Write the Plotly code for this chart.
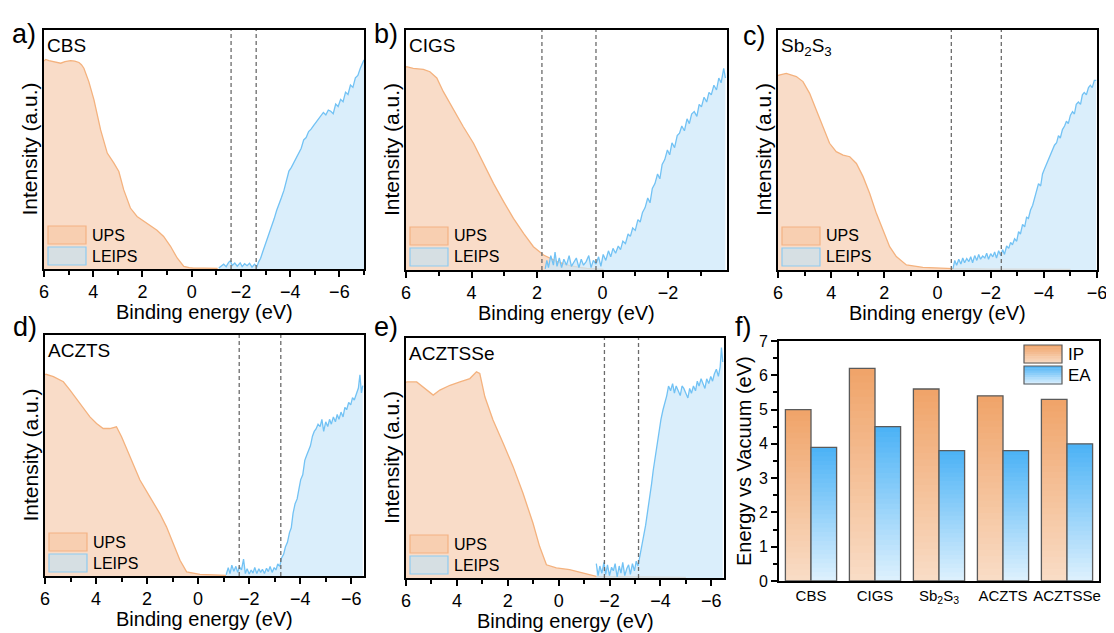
import plotly.graph_objects as go

W, H = 1114, 633
FONT = "Arial, Liberation Sans, sans-serif"

# ---------------- data ----------------
# a) CBS
cbs_ups_E = [6.00, 5.93, 5.80, 5.60, 5.45, 5.32, 5.15, 4.92, 4.75, 4.58, 4.48, 4.38, 4.18, 3.97, 3.70, 3.43,
             3.16, 2.96, 2.76, 2.49, 2.22, 1.81, 1.41, 1.14, 0.86, 0.59, 0.32, 0.10, -0.08, -0.50, -1.05]
cbs_ups_I = [0.870, 0.877, 0.872, 0.868, 0.862, 0.861, 0.868, 0.872, 0.870, 0.864, 0.855, 0.840, 0.784, 0.708,
             0.582, 0.485, 0.443, 0.408, 0.331, 0.255, 0.220, 0.189, 0.162, 0.136, 0.095, 0.046, 0.011, 0.006,
             0.004, 0.004, 0.003]
cbs_leips_E = [-1.10, -1.20, -1.30, -1.40, -1.50, -1.57, -1.65, -1.75, -1.85, -1.97, -2.05, -2.15, -2.25, -2.35,
               -2.45, -2.55, -2.65, -2.72, -2.80, -2.88, -2.95, -3.05, -3.15, -3.25, -3.35, -3.45, -3.55, -3.65,
               -3.75, -3.85, -3.95, -4.05, -4.15, -4.25, -4.35, -4.45, -4.55, -4.65, -4.75, -4.85, -4.95, -5.05,
               -5.15, -5.25, -5.35, -5.45, -5.55, -5.65, -5.75, -5.85, -5.95, -6.05, -6.15, -6.25, -6.35, -6.45,
               -6.55, -6.65, -6.75, -6.85, -6.95, -7.00]
cbs_leips_I = [0.004, 0.012, 0.020, 0.010, 0.028, 0.034, 0.015, 0.025, 0.012, 0.026, 0.010, 0.022, 0.014, 0.024,
               0.008, 0.020, 0.010, 0.030, 0.045, 0.070, 0.090, 0.120, 0.150, 0.180, 0.210, 0.245, 0.270, 0.300,
               0.330, 0.370, 0.410, 0.425, 0.445, 0.470, 0.490, 0.505, 0.540, 0.550, 0.575, 0.585, 0.600, 0.615,
               0.630, 0.640, 0.655, 0.645, 0.665, 0.660, 0.650, 0.690, 0.680, 0.710, 0.700, 0.740, 0.730, 0.770,
               0.760, 0.800, 0.810, 0.840, 0.860, 0.875]
cbs_onsets = [-1.60, -2.62]
cbs_xrange = [6, -7]

# b) CIGS
cigs_ups_E = [6.00, 5.98, 5.78, 5.47, 5.27, 5.06, 4.86, 4.55, 4.25, 3.94, 3.64, 3.33, 3.02, 2.72, 2.41, 2.11,
              1.80, 1.39, 0.98, 0.48, -0.03]
cigs_ups_I = [0.845, 0.847, 0.840, 0.836, 0.826, 0.800, 0.743, 0.667, 0.597, 0.528, 0.444, 0.361, 0.285, 0.215,
              0.153, 0.097, 0.0625, 0.035, 0.017, 0.007, 0.003]
cigs_leips_E = [1.75, 1.70, 1.65, 1.58, 1.50, 1.45, 1.39, 1.32, 1.25, 1.18, 1.10, 1.02, 0.95, 0.88, 0.80, 0.72,
                0.65, 0.58, 0.50, 0.42, 0.35, 0.28, 0.20, 0.12, 0.05, -0.02, -0.10, -0.18, -0.25, -0.32, -0.40,
                -0.48, -0.55, -0.62, -0.70, -0.78, -0.85, -0.92, -1.00, -1.08, -1.15, -1.22, -1.30, -1.38, -1.45,
                -1.52, -1.60, -1.68, -1.75, -1.82, -1.90, -1.98, -2.05, -2.12, -2.20, -2.28, -2.35, -2.42, -2.50,
                -2.58, -2.65, -2.72, -2.80, -2.88, -2.95, -3.02, -3.10, -3.18, -3.25, -3.32, -3.40, -3.48, -3.55,
                -3.62, -3.70, -3.75]
cigs_leips_I = [0.005, 0.040, 0.010, 0.060, 0.020, 0.075, 0.015, 0.050, 0.010, 0.045, 0.020, 0.060, 0.015, 0.030,
                0.050, 0.010, 0.045, 0.020, 0.035, 0.060, 0.010, 0.040, 0.025, 0.055, 0.015, 0.065, 0.040, 0.080,
                0.055, 0.090, 0.070, 0.100, 0.085, 0.120, 0.110, 0.150, 0.140, 0.175, 0.165, 0.210, 0.200, 0.240,
                0.260, 0.300, 0.280, 0.340, 0.360, 0.400, 0.380, 0.440, 0.460, 0.500, 0.480, 0.530, 0.510, 0.560,
                0.570, 0.600, 0.580, 0.630, 0.610, 0.650, 0.660, 0.640, 0.690, 0.680, 0.720, 0.700, 0.740, 0.730,
                0.770, 0.750, 0.800, 0.780, 0.840, 0.800]
cigs_onsets = [1.85, 0.20]
cigs_xrange = [6, -3.8]

# c) Sb2S3
sbs_ups_E = [6.00, 5.96, 5.69, 5.31, 5.06, 4.81, 4.56, 4.31, 4.06, 3.81, 3.55, 3.30, 3.05, 2.80, 2.55, 2.30,
             2.05, 1.80, 1.55, 1.17, 0.55, -0.58, -2.00, -3.50, -5.00]
sbs_ups_I = [0.810, 0.8125, 0.819, 0.806, 0.785, 0.736, 0.667, 0.597, 0.528, 0.493, 0.479, 0.472, 0.444, 0.389,
             0.319, 0.236, 0.167, 0.097, 0.056, 0.021, 0.011, 0.006, 0.004, 0.003, 0.003]
sbs_leips_E = [-0.58, -0.65, -0.72, -0.80, -0.88, -0.95, -1.02, -1.10, -1.18, -1.25, -1.32, -1.40, -1.48, -1.55,
               -1.62, -1.70, -1.78, -1.85, -1.92, -2.00, -2.08, -2.15, -2.22, -2.30, -2.38, -2.45, -2.52, -2.60,
               -2.68, -2.75, -2.82, -2.90, -2.98, -3.05, -3.12, -3.20, -3.28, -3.35, -3.42, -3.50, -3.58, -3.65,
               -3.72, -3.80, -3.88, -3.95, -4.02, -4.10, -4.18, -4.25, -4.32, -4.40, -4.48, -4.55, -4.62, -4.70,
               -4.78, -4.85, -4.92, -5.00, -5.08, -5.15, -5.22, -5.30, -5.38, -5.45, -5.52, -5.60, -5.68, -5.75,
               -5.82, -5.90, -5.97]
sbs_leips_I = [0.005, 0.040, 0.020, 0.045, 0.025, 0.050, 0.030, 0.048, 0.035, 0.055, 0.030, 0.060, 0.040, 0.065,
               0.045, 0.058, 0.050, 0.070, 0.045, 0.068, 0.055, 0.075, 0.050, 0.080, 0.060, 0.085, 0.065, 0.100,
               0.090, 0.115, 0.105, 0.130, 0.120, 0.160, 0.150, 0.190, 0.180, 0.220, 0.215, 0.250, 0.270, 0.300,
               0.330, 0.360, 0.350, 0.400, 0.420, 0.440, 0.460, 0.480, 0.500, 0.520, 0.530, 0.560, 0.550, 0.585,
               0.600, 0.620, 0.610, 0.645, 0.660, 0.650, 0.690, 0.700, 0.690, 0.730, 0.740, 0.730, 0.760, 0.770,
               0.760, 0.790, 0.790]
sbs_onsets = [-0.52, -2.40]
sbs_xrange = [6, -6]

# d) ACZTS
aczts_ups_E = [6.00, 5.96, 5.67, 5.28, 5.02, 4.63, 4.24, 3.98, 3.72, 3.46, 3.20, 3.00, 2.67, 2.28, 1.89, 1.50,
               1.24, 0.97, 0.71, 0.45, -0.07, -1.10]
aczts_ups_I = [0.835, 0.837, 0.827, 0.806, 0.771, 0.716, 0.660, 0.633, 0.612, 0.612, 0.619, 0.578, 0.494, 0.398,
               0.328, 0.259, 0.204, 0.134, 0.065, 0.017, 0.007, 0.003]
aczts_leips_E = [-1.10, -1.18, -1.25, -1.32, -1.40, -1.48, -1.55, -1.62, -1.70, -1.78, -1.85, -1.92, -2.00, -2.08,
                 -2.15, -2.22, -2.30, -2.38, -2.45, -2.52, -2.60, -2.68, -2.75, -2.82, -2.90, -2.98, -3.05, -3.12,
                 -3.20, -3.27, -3.35, -3.42, -3.50, -3.58, -3.65, -3.72, -3.80, -3.88, -3.95, -4.02, -4.10, -4.18,
                 -4.25, -4.32, -4.40, -4.48, -4.55, -4.62, -4.70, -4.78, -4.85, -4.92, -5.00, -5.08, -5.15, -5.22,
                 -5.30, -5.38, -5.45, -5.52, -5.60, -5.68, -5.75, -5.82, -5.90, -5.98, -6.05, -6.12, -6.20, -6.28,
                 -6.34, -6.40, -6.45]
aczts_leips_I = [0.005, 0.035, 0.010, 0.045, 0.020, 0.040, 0.015, 0.038, 0.025, 0.070, 0.010, 0.030, 0.008, 0.025,
                 0.012, 0.035, 0.010, 0.030, 0.015, 0.028, 0.010, 0.032, 0.018, 0.040, 0.015, 0.035, 0.025, 0.050,
                 0.040, 0.075, 0.090, 0.120, 0.140, 0.180, 0.200, 0.260, 0.300, 0.320, 0.360, 0.400, 0.420, 0.480,
                 0.500, 0.520, 0.540, 0.580, 0.600, 0.610, 0.630, 0.620, 0.650, 0.600, 0.640, 0.620, 0.650, 0.630,
                 0.660, 0.640, 0.670, 0.650, 0.680, 0.660, 0.700, 0.690, 0.720, 0.710, 0.740, 0.730, 0.760, 0.780,
                 0.835, 0.760, 0.790]
aczts_onsets = [-1.61, -3.24]
aczts_xrange = [6, -6.5]

# e) ACZTSSe
acztsse_ups_E = [6.00, 5.97, 5.58, 5.19, 4.93, 4.67, 4.27, 3.88, 3.49, 3.23, 3.10, 2.90, 2.58, 2.18, 1.79, 1.40,
                 1.01, 0.75, 0.48, 0.09, -0.43, -1.48, -3.00, -5.00]
acztsse_ups_I = [0.815, 0.817, 0.817, 0.783, 0.762, 0.783, 0.803, 0.817, 0.831, 0.859, 0.852, 0.755, 0.658, 0.561,
                 0.464, 0.353, 0.229, 0.132, 0.055, 0.042, 0.035, 0.007, 0.004, 0.003]
acztsse_leips_E = [-1.48, -1.55, -1.62, -1.70, -1.78, -1.85, -1.92, -2.00, -2.08, -2.15, -2.22, -2.30, -2.38,
                   -2.45, -2.52, -2.60, -2.68, -2.75, -2.82, -2.90, -2.98, -3.05, -3.12, -3.20, -3.27, -3.35,
                   -3.42, -3.50, -3.58, -3.65, -3.72, -3.80, -3.88, -3.95, -4.02, -4.10, -4.18, -4.25, -4.32,
                   -4.40, -4.48, -4.55, -4.62, -4.70, -4.78, -4.85, -4.92, -5.00, -5.08, -5.15, -5.22, -5.30,
                   -5.38, -5.45, -5.52, -5.60, -5.68, -5.75, -5.82, -5.90, -5.98, -6.05, -6.12, -6.20, -6.28,
                   -6.35, -6.40, -6.45]
acztsse_leips_I = [0.060, 0.010, 0.050, 0.020, 0.065, 0.015, 0.055, 0.010, 0.045, 0.030, 0.060, 0.005, 0.050,
                   0.020, 0.065, 0.010, 0.040, 0.055, 0.015, 0.060, 0.030, 0.070, 0.050, 0.095, 0.120, 0.170,
                   0.220, 0.280, 0.330, 0.390, 0.450, 0.510, 0.570, 0.620, 0.660, 0.700, 0.730, 0.760, 0.800,
                   0.780, 0.810, 0.770, 0.800, 0.780, 0.760, 0.800, 0.790, 0.770, 0.750, 0.790, 0.770, 0.800,
                   0.780, 0.820, 0.800, 0.830, 0.810, 0.790, 0.830, 0.810, 0.840, 0.820, 0.850, 0.870, 0.840,
                   0.880, 0.960, 0.900]
acztsse_onsets = [-1.80, -3.14]
acztsse_xrange = [6, -6.5]

# f) bar chart
materials = ["CBS", "CIGS", "Sb<sub>2</sub>S<sub>3</sub>", "ACZTS", "ACZTSSe"]
ip_values = [5.0, 6.2, 5.6, 5.4, 5.3]
ea_values = [3.9, 4.5, 3.8, 3.8, 4.0]

sample_names = ["CBS", "CIGS", "Sb<sub>2</sub>S<sub>3</sub>", "ACZTS", "ACZTSSe"]
panel_labels = ["a)", "b)", "c)", "d)", "e)", "f)"]

# ---------------- style / layout ----------------
UPS_LINE = "#f4b27e"
UPS_FILL = "rgba(248,214,190,0.85)"
LEIPS_LINE = "#72c2f4"
LEIPS_FILL = "rgba(206,232,250,0.75)"

# plot-area boxes in pixels of the final page: (left, top, right, bottom)
boxes = [(44, 30, 364, 269), (406, 30, 727, 270), (778, 30, 1097, 270),
         (45, 335, 364, 576), (406, 338, 724, 578), (779, 341, 1099, 581)]
OFF = 8  # page body margin


def fx(px):
    return (px - OFF) / W


def fy(py):
    return 1 - (py - OFF) / H


spectra = [
    (cbs_ups_E, cbs_ups_I, cbs_leips_E, cbs_leips_I, cbs_onsets, cbs_xrange),
    (cigs_ups_E, cigs_ups_I, cigs_leips_E, cigs_leips_I, cigs_onsets, cigs_xrange),
    (sbs_ups_E, sbs_ups_I, sbs_leips_E, sbs_leips_I, sbs_onsets, sbs_xrange),
    (aczts_ups_E, aczts_ups_I, aczts_leips_E, aczts_leips_I, aczts_onsets, aczts_xrange),
    (acztsse_ups_E, acztsse_ups_I, acztsse_leips_E, acztsse_leips_I, acztsse_onsets, acztsse_xrange),
]

fig = go.Figure()
layout = dict(
    width=W, height=H, margin=dict(l=0, r=0, t=0, b=0, autoexpand=False),
    paper_bgcolor="white", plot_bgcolor="white", showlegend=False,
    font=dict(family=FONT, color="black"),
)
shapes = []
annotations = []

for i, (uE, uI, lE, lI, onsets, xr) in enumerate(spectra):
    n = i + 1
    xs = "x" if n == 1 else f"x{n}"
    ys = "y" if n == 1 else f"y{n}"
    L, T, R, B = boxes[i]
    fig.add_trace(go.Scatter(x=uE, y=uI, xaxis=xs, yaxis=ys, mode="lines", fill="tozeroy",
                             line=dict(color=UPS_LINE, width=1.3), fillcolor=UPS_FILL, name="UPS"))
    fig.add_trace(go.Scatter(x=lE, y=lI, xaxis=xs, yaxis=ys, mode="lines", fill="tozeroy",
                             line=dict(color=LEIPS_LINE, width=1.3), fillcolor=LEIPS_FILL, name="LEIPS"))
    xk = "xaxis" if n == 1 else f"xaxis{n}"
    yk = "yaxis" if n == 1 else f"yaxis{n}"
    layout[xk] = dict(domain=[fx(L), fx(R)], anchor=ys, range=xr, showgrid=False, zeroline=False,
                      automargin=False,
                      showline=True, linecolor="black", linewidth=1.6, mirror=True,
                      ticks="outside", ticklen=6, tickwidth=1.5, tickcolor="black",
                      tickmode="linear", tick0=0, dtick=2,
                      minor=dict(ticks="outside", ticklen=4, tickwidth=1.5, tickcolor="black", dtick=1,
                                 showgrid=False),
                      tickfont=dict(size=18, family=FONT))
    layout[yk] = dict(domain=[fy(B), fy(T)], anchor=xs, range=[0, 1], showgrid=False, zeroline=False,
                      automargin=False,
                      showline=True, linecolor="black", linewidth=1.6, mirror=True,
                      showticklabels=False, ticks="")
    for e in onsets:
        shapes.append(dict(type="line", xref=xs, yref=f"{ys} domain", x0=e, x1=e, y0=0, y1=1,
                           line=dict(color="#6b6b6b", width=1.3, dash="4px,3px")))
    # in-panel legend
    shapes.append(dict(type="rect", xref="paper", yref="paper", x0=fx(L + 4), x1=fx(L + 42),
                       y0=fy(B - 25), y1=fy(B - 43), fillcolor="#f8cfb1",
                       line=dict(color="#f4b283", width=1.2)))
    shapes.append(dict(type="rect", xref="paper", yref="paper", x0=fx(L + 4), x1=fx(L + 42),
                       y0=fy(B - 4), y1=fy(B - 22), fillcolor="#d6dfe3",
                       line=dict(color="#8ecbf1", width=1.2)))
    annotations.append(dict(text="UPS", xref="paper", yref="paper", x=fx(L + 46), y=fy(B - 34),
                            xanchor="left", yanchor="middle", showarrow=False, font=dict(size=16)))
    annotations.append(dict(text="LEIPS", xref="paper", yref="paper", x=fx(L + 46), y=fy(B - 13),
                            xanchor="left", yanchor="middle", showarrow=False, font=dict(size=16)))
    # sample name
    annotations.append(dict(text=sample_names[i], xref="paper", yref="paper", x=fx(L + 1), y=fy(T + 3),
                            xanchor="left", yanchor="top", showarrow=False, font=dict(size=19)))
    # axis titles
    annotations.append(dict(text="Binding energy (eV)", xref="paper", yref="paper", x=fx((L + R) / 2),
                            y=fy(B + 43), xanchor="center", yanchor="middle", showarrow=False,
                            font=dict(size=20)))
    annotations.append(dict(text="Intensity (a.u.)", xref="paper", yref="paper", x=fx(L - 15),
                            y=fy((T + B) / 2), xanchor="center", yanchor="middle", showarrow=False,
                            textangle=-90, font=dict(size=21)))

# ---------------- panel f ----------------
L, T, R, B = boxes[5]
N_SEG = 30
ip_top, ip_bot = (240, 164, 106), (249, 220, 197)
ea_top, ea_bot = (77, 179, 246), (220, 240, 253)


def mix(c1, c2, t):
    return "rgb(%d,%d,%d)" % tuple(round(a + (b - a) * t) for a, b in zip(c1, c2))


# gradient bars: nested bars of decreasing height, each drawn over the previous one
for vals, off, top, bot in [(ip_values, -0.4, ip_top, ip_bot), (ea_values, 0.0, ea_top, ea_bot)]:
    for k in range(N_SEG):
        t = k / (N_SEG - 1)
        fig.add_trace(go.Bar(x=materials, y=[v * (N_SEG - k) / N_SEG for v in vals],
                             offset=off, width=0.4, xaxis="x6", yaxis="y6",
                             marker=dict(color=mix(top, bot, t), line=dict(width=0)),
                             hoverinfo="skip"))
    fig.add_trace(go.Bar(x=materials, y=vals, offset=off, width=0.4, xaxis="x6", yaxis="y6",
                         marker=dict(color="rgba(0,0,0,0)", line=dict(color="#5a5a5a", width=1.3)),
                         name="IP" if off < 0 else "EA"))

layout["barmode"] = "overlay"
layout["xaxis6"] = dict(domain=[fx(L), fx(R)], anchor="y6", type="category", range=[-0.5, 4.5],
                        automargin=False, tickangle=0,
                        showgrid=False, zeroline=False, showline=True, linecolor="black", linewidth=1.6,
                        mirror=True, ticks="", tickfont=dict(size=15, family=FONT))
layout["yaxis6"] = dict(domain=[fy(B), fy(T)], anchor="x6", range=[0, 7], showgrid=False, zeroline=False,
                        automargin=False,
                        showline=True, linecolor="black", linewidth=1.6, mirror=True,
                        ticks="outside", ticklen=6, tickwidth=1.5, tickcolor="black", dtick=1, tick0=0,
                        minor=dict(ticks="outside", ticklen=4, tickwidth=1.5, tickcolor="black", dtick=0.5,
                                   showgrid=False),
                        tickfont=dict(size=16, family=FONT))
annotations.append(dict(text="Energy vs Vacuum (eV)", xref="paper", yref="paper", x=fx(744),
                        y=fy((T + B) / 2), xanchor="center", yanchor="middle", showarrow=False,
                        textangle=-90, font=dict(size=20)))
# f legend swatches (gradient stripes)
NS = 8
for (y_top, y_bot, top, bot, lab) in [(345, 363, ip_top, ip_bot, "IP"), (366, 384, ea_top, ea_bot, "EA")]:
    h = (y_bot - y_top) / NS
    for k in range(NS):
        t = (k + 0.5) / NS
        shapes.append(dict(type="rect", xref="paper", yref="paper", x0=fx(1024), x1=fx(1062),
                           y0=fy(y_top + k * h), y1=fy(y_top + (k + 1) * h + 0.6),
                           fillcolor=mix(top, bot, t), line=dict(width=0)))
    shapes.append(dict(type="rect", xref="paper", yref="paper", x0=fx(1024), x1=fx(1062),
                       y0=fy(y_top), y1=fy(y_bot), fillcolor="rgba(0,0,0,0)",
                       line=dict(color="#5a5a5a", width=1.2)))
    annotations.append(dict(text=lab, xref="paper", yref="paper", x=fx(1066), y=fy((y_top + y_bot) / 2),
                            xanchor="left", yanchor="middle", showarrow=False, font=dict(size=17)))

# panel labels
label_pos = [(10, 34), (372, 34), (741, 36), (11, 327), (372, 327), (733, 327)]
for lab, (px, py) in zip(panel_labels, label_pos):
    annotations.append(dict(text=lab, xref="paper", yref="paper", x=fx(px), y=fy(py), xanchor="left",
                            yanchor="middle", showarrow=False, font=dict(size=27)))

layout["shapes"] = shapes
layout["annotations"] = annotations
fig.update_layout(**layout)
fig.write_html("out.html")
